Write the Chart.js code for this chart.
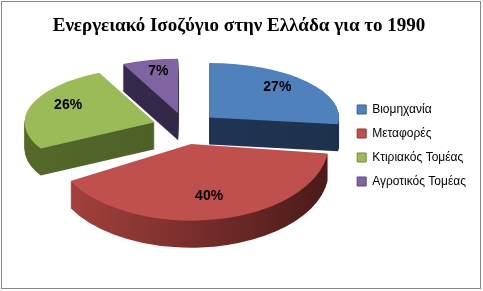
<!DOCTYPE html>
<html>
<head>
<meta charset="utf-8">
<script src="https://cdn.jsdelivr.net/npm/chart.js@4.4.0/dist/chart.umd.min.js"></script>
<style>
  html, body { margin: 0; padding: 0; background: #fff; }
</style>
</head>
<body>
<canvas id="pieChart" width="483" height="291"></canvas>
<script>
const sektores = ['Βιομηχανία', 'Μεταφορές', 'Κτιριακός Τομέας', 'Αγροτικός Τομέας'];
const pososta = [27, 40, 26, 7];

const xromata = ['#4f81bd', '#c0504d', '#9bbb59', '#8064a2'];
const plagia = [['#22395a', '#1d314d'], ['#a9433f', '#4a1a19'], ['#55692b', '#465723'], ['#3a2e50', '#2b2140']];
const perigrammata = ['#385d8a', '#8c3836', '#71893f', '#5c4776'];

const explode = 32;   // same pull-out for every slice
const vathos = 27;    // side height in px
const kPiso = 0.42;   // vertical squash at the back
const kBros = 0.56;   // vertical squash at the front (fake perspective)
const metatopisiX = 11.5;  // pie centre shift from the chart area centre
const metatopisiY = -43;

function sliceInfo(chart, a) {
  const ca = chart.chartArea;
  const cy = (ca.top + ca.bottom) / 2;
  const mid = (a.startAngle + a.endAngle) / 2;
  const front = Math.max(0, Math.sin(mid));
  return {
    mid,
    cy,
    yc: cy + metatopisiY,
    k: kPiso + (kBros - kPiso) * front,
    s: 1 + 0.06 * front
  };
}

// chart space -> screen for one slice, incl. explode and perspective scale
function applySlice(ctx, chart, a) {
  const t = sliceInfo(chart, a);
  ctx.translate(metatopisiX, t.yc);
  ctx.scale(1, t.k);
  ctx.translate(0, -t.cy);
  ctx.translate(Math.cos(t.mid) * explode, Math.sin(t.mid) * explode);
  ctx.translate(a.x, a.y);
  ctx.scale(t.s, t.s);
  ctx.translate(-a.x, -a.y);
}

const pie3d = {
  id: 'pie3d',
  beforeDraw(chart) {
    const ctx = chart.ctx;
    ctx.save();
    ctx.strokeStyle = '#868686';
    ctx.lineWidth = 1;
    ctx.strokeRect(1.5, 1.5, 479, 287);
    ctx.restore();
  },
  beforeDatasetsDraw(chart) {
    const ctx = chart.ctx;
    const arcs = chart.getDatasetMeta(0).data;
    const order = arcs.map((a, i) => i).sort((p, q) => {
      const mp = (arcs[p].startAngle + arcs[p].endAngle) / 2;
      const mq = (arcs[q].startAngle + arcs[q].endAngle) / 2;
      return Math.sin(mp) - Math.sin(mq);
    });
    order.forEach(i => {
      const a = arcs[i];
      for (let d = vathos; d > 0; d--) {
        ctx.save();
        ctx.translate(0, d);
        applySlice(ctx, chart, a);
        const g = ctx.createLinearGradient(a.x - a.outerRadius, 0, a.x + a.outerRadius, 0);
        g.addColorStop(0, plagia[i][0]);
        g.addColorStop(1, plagia[i][1]);
        ctx.fillStyle = g;
        ctx.beginPath();
        ctx.moveTo(a.x, a.y);
        ctx.arc(a.x, a.y, a.outerRadius, a.startAngle, a.endAngle);
        ctx.closePath();
        ctx.fill();
        ctx.restore();
      }
    });
  },
  beforeDatasetDraw(chart) {
    const ctx = chart.ctx;
    chart.getDatasetMeta(0).data.forEach(a => {
      ctx.save();
      applySlice(ctx, chart, a);
      a.draw(ctx);
      ctx.restore();
    });
    return false;
  },
  afterDatasetsDraw(chart) {
    const ctx = chart.ctx;
    ctx.save();
    ctx.font = 'bold 14px "Liberation Sans"';
    ctx.fillStyle = '#000';
    ctx.textAlign = 'center';
    ctx.textBaseline = 'middle';
    chart.getDatasetMeta(0).data.forEach((a, i) => {
      const t = sliceInfo(chart, a);
      const r = explode + 0.7 * a.outerRadius * t.s;
      const x = a.x + metatopisiX + Math.cos(t.mid) * r;
      const y = t.yc + Math.sin(t.mid) * r * t.k - 5 * (1 - Math.max(0, Math.sin(t.mid)));
      ctx.fillText(pososta[i] + '%', x, y);
    });
    ctx.restore();
  }
};

new Chart(document.getElementById('pieChart'), {
  type: 'pie',
  data: {
    labels: sektores,
    datasets: [{
      data: pososta,
      backgroundColor: xromata,
      borderWidth: 0,
      hoverOffset: 0,
      radius: 130
    }]
  },
  options: {
    responsive: false,
    animation: false,
    events: [],
    layout: { padding: { left: 2, right: 7, bottom: 0 } },
    plugins: {
      title: {
        display: true,
        text: 'Ενεργειακό Ισοζύγιο στην Ελλάδα για το 1990',
        color: '#000',
        font: { family: 'Liberation Serif', size: 19, weight: 'bold' },
        padding: { top: 15, bottom: 10 }
      },
      legend: {
        position: 'right',
        labels: {
          boxWidth: 9,
          boxHeight: 9,
          padding: 12,
          color: '#000',
          font: { family: 'Liberation Sans', size: 12 },
          generateLabels: () => sektores.map((s, i) => ({
            text: s,
            fillStyle: xromata[i],
            strokeStyle: perigrammata[i],
            lineWidth: 1,
            fontColor: '#000',
            hidden: false,
            index: i
          }))
        }
      },
      tooltip: { enabled: false }
    }
  },
  plugins: [pie3d]
});
</script>
</body>
</html>
